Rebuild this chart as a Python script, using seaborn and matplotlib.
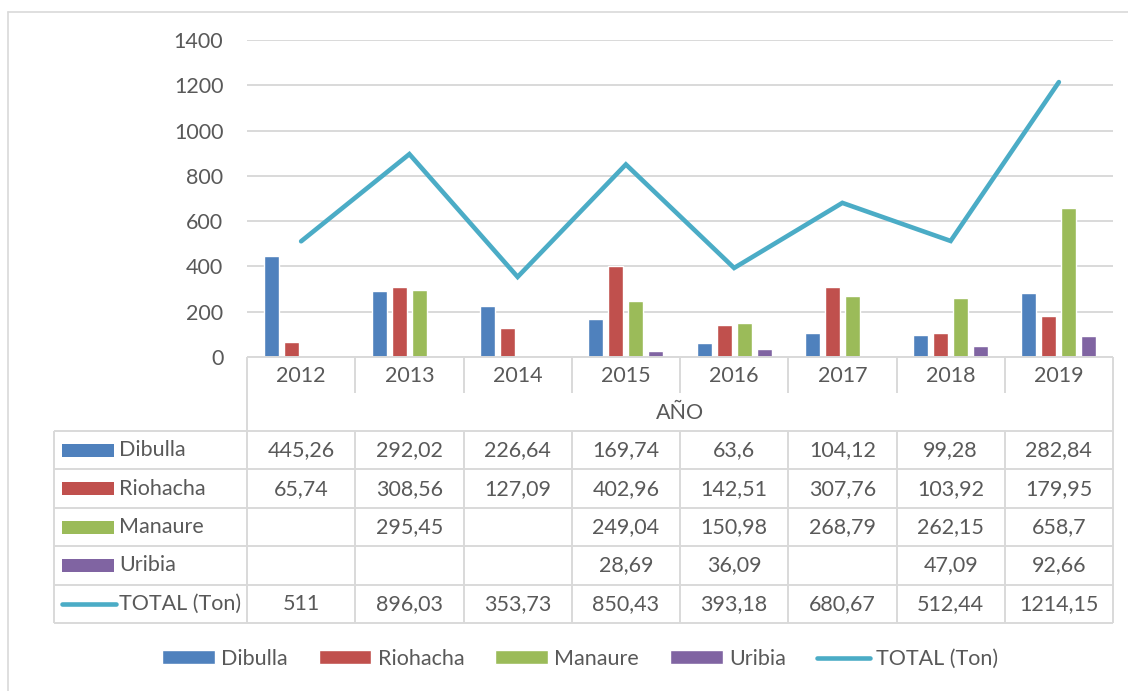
import numpy as np
import pandas as pd
import matplotlib.pyplot as plt
import seaborn as sns
from matplotlib.patches import Rectangle
from matplotlib.lines import Line2D

# data (Ton per municipio and year)
years = ['2012', '2013', '2014', '2015', '2016', '2017', '2018', '2019']
dibulla = [445.26, 292.02, 226.64, 169.74, 63.6, 104.12, 99.28, 282.84]
riohacha = [65.74, 308.56, 127.09, 402.96, 142.51, 307.76, 103.92, 179.95]
manaure = [np.nan, 295.45, np.nan, 249.04, 150.98, 268.79, 262.15, 658.7]
uribia = [np.nan, np.nan, np.nan, 28.69, 36.09, np.nan, 47.09, 92.66]
total = [511, 896.03, 353.73, 850.43, 393.18, 680.67, 512.44, 1214.15]
series_names = ['Dibulla', 'Riohacha', 'Manaure', 'Uribia']
total_name = 'TOTAL (Ton)'
x_label = 'AÑO'

colors = ['#4F81BD', '#C0504D', '#9BBB59', '#8064A2']
line_color = '#4BACC6'
text_color = '#595959'
grid_color = '#D9D9D9'

sns.set_style('white')
plt.rcParams['font.family'] = ['Lato', 'DejaVu Sans']
FS = 15.5

W, H = 1128, 691
fig = plt.figure(figsize=(W / 100, H / 100), dpi=100)

# plot area
ax = fig.add_axes([247 / W, 1 - 357 / H, 866 / W, 317 / H])
series = [dibulla, riohacha, manaure, uribia]
df = pd.DataFrame({
    'year': years * len(series_names),
    'municipio': np.repeat(series_names, len(years)),
    'ton': np.concatenate(series),
}).dropna()

sns.barplot(data=df, x='year', y='ton', hue='municipio', order=years,
            hue_order=series_names, palette=colors, width=0.74, gap=0.25,
            saturation=1, ax=ax)
sns.lineplot(x=np.arange(len(years)), y=total, color=line_color, lw=3.3,
             label=total_name, ax=ax)
for ln in ax.lines:
    ln.set_solid_capstyle('round')
    ln.set_solid_joinstyle('miter')

handles, labels = ax.get_legend_handles_labels()
ax.get_legend().remove()

ax.set_xlim(-0.5, len(years) - 0.5)
ax.set_ylim(0, 1400)
ax.set_yticks(range(0, 1401, 200))
ax.set_xticks([])
ax.set_xlabel('')
ax.set_ylabel('')
ax.yaxis.grid(True, color=grid_color, lw=1.4)
ax.set_axisbelow(True)
for s in ['top', 'right', 'left', 'bottom']:
    ax.spines[s].set_visible(False)
ax.tick_params(axis='y', length=0, pad=17, labelsize=FS, labelcolor=text_color)

# data table under the plot
n = len(years)
tab = fig.add_axes([54 / W, 1 - 623 / H, (1113 - 54) / W, 266 / H])
px = 866 / n
left = -0.5 - (247 - 54) / px
tab.set_xlim(left, n - 0.5)
tab.set_ylim(266, 0)
tab.axis('off')

lkw = dict(color=grid_color, lw=1.4, clip_on=False, solid_capstyle='butt')
row_top = 74
row_h = (266 - row_top) / 5
tab.plot([-0.5, n - 0.5], [0, 0], **lkw)
for k in range(6):
    y = row_top + k * row_h
    tab.plot([left, n - 0.5], [y, y], **lkw)
tab.plot([left, left], [row_top, 266], **lkw)
tab.plot([-0.5, -0.5], [0, 266], **lkw)
tab.plot([n - 0.5, n - 0.5], [0, 266], **lkw)
for j in range(n - 1):
    tab.plot([j + 0.5, j + 0.5], [0, 36], **lkw)
    tab.plot([j + 0.5, j + 0.5], [row_top, 266], **lkw)

for j, yr in enumerate(years):
    tab.text(j, 19, yr, ha='center', va='center', fontsize=FS, color=text_color)
tab.text((n - 1) / 2, 56, x_label, ha='center', va='center', fontsize=FS,
         color=text_color)


def fmt(v):
    if v is None or (isinstance(v, float) and np.isnan(v)):
        return ''
    return f'{v:g}'.replace('.', ',')


key_x0 = left + (62 - 54) / px
key_w = 52 / px
lab_x = left + (119 - 54) / px
rows = series + [total]
names = series_names + [total_name]
for k, (vals, name) in enumerate(zip(rows, names)):
    yc = row_top + (k + 0.5) * row_h
    if k < len(series):
        tab.add_patch(Rectangle((key_x0, yc - 6.5), key_w, 13,
                                color=colors[k], clip_on=False, lw=0))
    else:
        tab.plot([key_x0, key_x0 + 54 / px], [yc, yc], color=line_color,
                 lw=3.3, solid_capstyle='round', clip_on=False)
    tab.text(lab_x, yc, name, ha='left', va='center', fontsize=FS,
             color=text_color)
    for j, v in enumerate(vals):
        tab.text(j, yc, fmt(v), ha='center', va='center', fontsize=FS,
                 color=text_color)

# bottom legend
leg = fig.legend(handles, labels, loc='center', bbox_to_anchor=(580 / W, 1 - 659 / H),
                 ncol=5, frameon=False, fontsize=FS, handlelength=2.45,
                 handleheight=0.62, handletextpad=0.28, columnspacing=1.45,
                 labelcolor=text_color)
for h in leg.legend_handles:
    if isinstance(h, Line2D):
        h.set_solid_capstyle('round')

# outer chart border
fig.add_artist(Line2D([8 / W, 1], [1 - 12 / H, 1 - 12 / H], color=grid_color,
                      lw=1.2, transform=fig.transFigure))
fig.add_artist(Line2D([8 / W, 8 / W], [0, 1 - 12 / H], color=grid_color,
                      lw=1.2, transform=fig.transFigure))

fig.savefig('out.png', dpi=100)
